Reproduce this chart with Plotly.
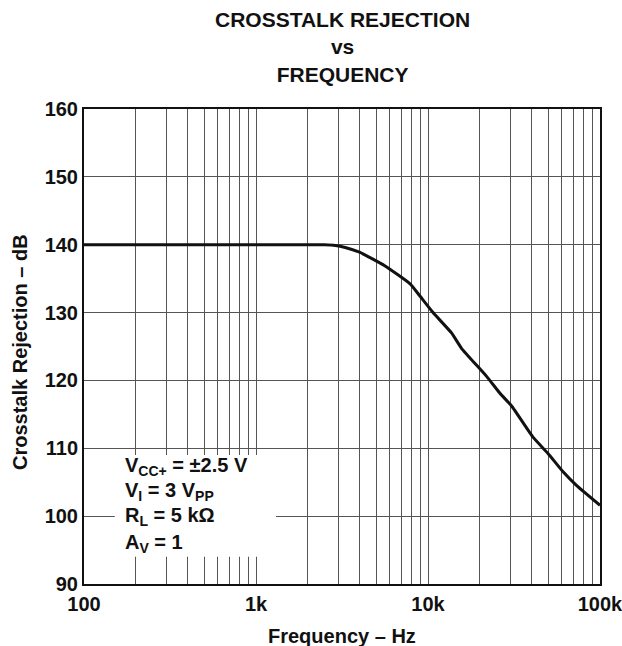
import plotly.graph_objects as go

# Data
freq_hz = [100, 2500, 2900, 3300, 4000, 5600, 7900, 9000, 10700, 13700, 15700,
           21900, 26200, 30700, 40900, 50000, 61200, 73200, 100000]
crosstalk_db = [140, 140, 139.9, 139.6, 138.9, 136.9, 134.2, 132.4, 130.0, 127.0, 124.7,
                120.6, 118.1, 116.2, 111.6, 109.2, 106.5, 104.5, 101.6]

x_tick_vals = [100, 1000, 10000, 100000]
x_tick_text = ["100", "1k", "10k", "100k"]
y_tick_vals = [90, 100, 110, 120, 130, 140, 150, 160]
y_tick_text = [str(v) for v in y_tick_vals]
minor_vals = [m * d for d in (100, 1000, 10000) for m in range(2, 10)]

cond_lines = ["V<sub>CC+</sub> = ±2.5 V",
              "V<sub>I</sub> = 3 V<sub>PP</sub>",
              "R<sub>L</sub> = 5 kΩ",
              "A<sub>V</sub> = 1"]
cond_y = [107.3, 103.6, 99.9, 96.0]

FONT = "Liberation Sans, Arial, sans-serif"
INK = "#111111"
GRID = "#555555"

W, H = 622, 646
L, T = 84, 109
R, B = W - 600, H - 584
PW, PH = W - L - R, H - T - B


def py(page_y):
    return (H - B - page_y) / PH


def px(page_x):
    return (page_x - L) / PW


fig = go.Figure()
fig.add_trace(go.Scatter(x=freq_hz, y=crosstalk_db, mode="lines",
                         line=dict(color=INK, width=3, shape="spline", smoothing=0.4),
                         showlegend=False, hoverinfo="skip"))

fig.add_shape(type="rect", xref="x", yref="y", x0=151, x1=1306, y0=94, y1=109,
              fillcolor="white", line=dict(width=0), layer="between")

for txt, yv in zip(cond_lines, cond_y):
    fig.add_annotation(x=2.227, y=yv, xref="x", yref="y", text="<b>" + txt + "</b>",
                       showarrow=False, xanchor="left", yanchor="middle",
                       font=dict(family=FONT, size=20, color=INK))

# Title
fig.add_annotation(x=0.5, y=py(47), xref="paper", yref="paper",
                   text="<b>CROSSTALK REJECTION<br>vs<br>FREQUENCY</b>",
                   showarrow=False, xanchor="center", yanchor="middle",
                   font=dict(family=FONT, size=21, color=INK))
# Axis titles
fig.add_annotation(x=0.5, y=py(636), xref="paper", yref="paper",
                   text="<b>Frequency – Hz</b>", showarrow=False,
                   xanchor="center", yanchor="middle",
                   font=dict(family=FONT, size=20, color=INK))
fig.add_annotation(x=px(20), y=py(352), xref="paper", yref="paper",
                   text="<b>Crosstalk Rejection – dB</b>", showarrow=False, textangle=-90,
                   xanchor="center", yanchor="middle",
                   font=dict(family=FONT, size=20, color=INK))

fig.update_layout(
    width=W, height=H,
    margin=dict(l=L, r=R, t=T, b=B, autoexpand=False),
    paper_bgcolor="white", plot_bgcolor="white",
    font=dict(family=FONT, color=INK),
)

fig.update_xaxes(type="log", range=[2, 5], tickvals=x_tick_vals,
                 ticktext=["<b>" + t + "</b>" for t in x_tick_text],
                 showgrid=True, gridcolor=GRID, gridwidth=1,
                 minor=dict(tickvals=minor_vals, showgrid=True, gridcolor=GRID, gridwidth=1, ticks=""),
                 showline=True, linecolor=INK, linewidth=2, mirror=True,
                 ticks="", ticklabelstandoff=1, automargin=False, ticklabeloverflow="allow",
                 tickfont=dict(family=FONT, size=20, color=INK))
fig.update_yaxes(range=[90, 160], tickvals=y_tick_vals,
                 ticktext=["<b>" + t + "</b>" for t in y_tick_text],
                 showgrid=True, gridcolor=GRID, gridwidth=1,
                 showline=True, linecolor=INK, linewidth=2, mirror=True,
                 ticks="", ticklabelstandoff=0, automargin=False, ticklabeloverflow="allow",
                 tickfont=dict(family=FONT, size=20, color=INK))

fig.write_html("out.html",
               config={"displayModeBar": False},
               post_script="document.body.style.margin='0';"
                           "document.documentElement.style.overflow='hidden';"
                           "document.body.style.overflow='hidden';")
